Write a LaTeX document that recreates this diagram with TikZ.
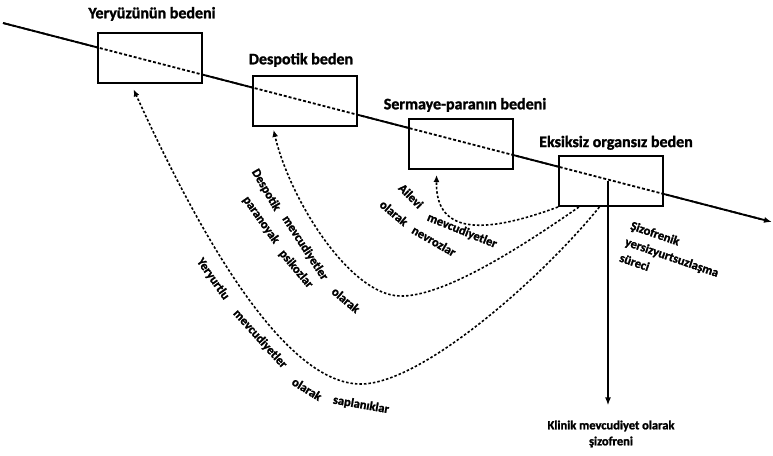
\documentclass[tikz,border=0pt]{standalone}
\usepackage{fontspec}
\setmainfont{Carlito}[BoldFeatures={FakeBold=1.5}]
\usetikzlibrary{positioning,arrows.meta}

\begin{document}
\begin{tikzpicture}[x=1pt,y=-1pt,
  body/.style={draw,line width=2pt,fill=white,minimum width=104pt,minimum height=50pt},
  title/.style={font=\bfseries\fontsize{16}{18}\selectfont,inner sep=0pt},
  word/.style={font=\bfseries\fontsize{12.5}{17}\selectfont,inner sep=0pt},
  flow/.style={-{Latex[length=7pt,width=6pt]},line width=1.6pt,dash pattern=on 2.5pt off 2pt}]
  \useasboundingbox (0,0) rectangle (773,455);
  % main line
  \coordinate (a) at (3,23);
  \coordinate (b) at (772,222);
  \draw[-{Latex[length=8pt,width=6pt]},line width=1.8pt] (a) -- (b);
  % bodies
  \node[body] (yer) at (150,58) {};
  \node[body] (desp) at (305,101) {};
  \node[body] (serm) at (461,144) {};
  \node[body] (eob) at (611,181) {};
  \draw[line width=1.8pt,dash pattern=on 3pt off 2pt,shorten >=10pt] (a) -- (b);
  \node[title,above=11pt of yer,xshift=2pt] (yerT) {Yeryüzünün bedeni};
  \node[title,above=8pt of desp,xshift=-4pt] (despT) {Despotik beden};
  \node[title,above=6pt of serm,xshift=4pt] (sermT) {Sermaye-paranın bedeni};
  \node[title,above=5pt of eob,xshift=5pt] (eobT) {Eksiksiz organsız beden};
  % flows back
  \draw[flow,shorten >=6pt] (eob.246) .. controls (540,280) and (420,385) .. (360,384)
    .. controls (275,383) and (183,198) .. (yer.234);
  \draw[flow,shorten >=3pt] (eob.219) .. controls (510,255) and (440,297) .. (400,296)
    .. controls (350,295) and (290,200) .. (desp.219);
  \draw[flow,shorten >=5pt] (eob.south west) .. controls (490,232) and (435,238) .. (serm.227);
  % labels
  \node[word,rotate=-55] (l1) at (213,279) {Yeryurtlu};
  \node[word,rotate=-48] (l2) at (260,339) {mevcudiyetler};
  \node[word,rotate=-32] (l3) at (307,389) {olarak};
  \node[word,rotate=-10] (l4) at (361,405) {saplanıklar};
  \node[word,rotate=-60] (m1) at (266,190) {Despotik};
  \node[word,rotate=-57] (m2) at (305,248) {mevcudiyetler};
  \node[word,rotate=-40] (m3) at (346,300) {olarak};
  \node[word,rotate=-55] (m4) at (261,220) {paranoyak};
  \node[word,rotate=-50] (m5) at (296,269) {psikozlar};
  \node[word,rotate=-45] (r1) at (411,196) {Ailevi};
  \node[word,rotate=-22] (r2) at (462,231) {mevcudiyetler};
  \node[word,rotate=-40] (r3) at (394,213) {olarak};
  \node[word,rotate=-30] (r4) at (434,241) {nevrozlar};
  \node[word,rotate=-19,align=left] (sz) at (672,257) {Şizofrenik\\yersizyurtsuzlaşma\\süreci};
  \node[word,align=center,font=\bfseries\fontsize{12.5}{16}\selectfont] (kl) at (611,434) {Klinik mevcudiyet olarak\\şizofreni};
  \draw[-{Latex[length=8pt,width=6pt]},line width=1.5pt,shorten >=15pt] ([xshift=-3pt]eob.center) -- ([xshift=-3pt]eob.center |- kl.north);
\end{tikzpicture}
\end{document}
